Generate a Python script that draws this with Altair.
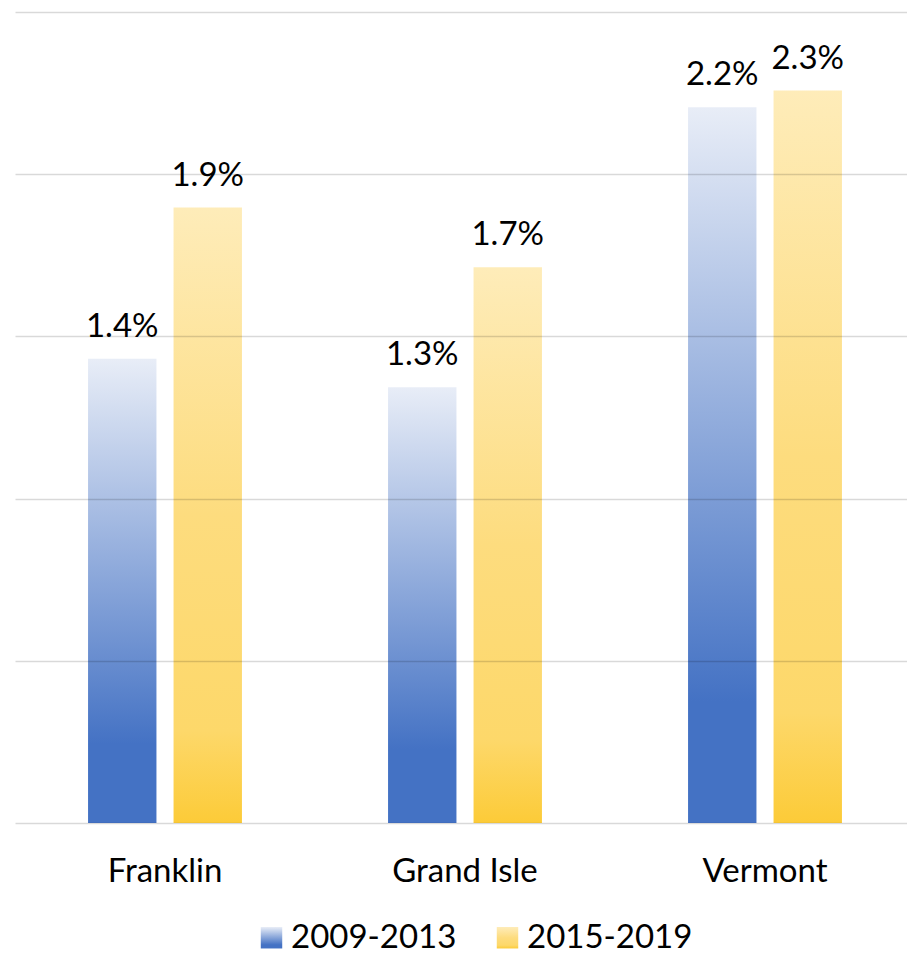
import altair as alt
import pandas as pd

# Share of population (%) by area for two five-year periods
areas = ["Franklin", "Grand Isle", "Vermont"]
periods = ["2009-2013", "2015-2019"]
share_2009_2013 = [1.431, 1.343, 2.206]
share_2015_2019 = [1.897, 1.713, 2.258]

rows = []
for i, area in enumerate(areas):
    rows.append({"area": area, "period": periods[0], "share": share_2009_2013[i]})
    rows.append({"area": area, "period": periods[1], "share": share_2015_2019[i]})
df = pd.DataFrame(rows)

FONT = "Lato"

# Vertical gradients (bottom -> top), evaluated per bar / legend swatch
blue_gradient = (
    "{gradient: 'linear', x1: 0, y1: 1, x2: 0, y2: 0, stops: ["
    "{offset: 0, color: '#4472c4'}, {offset: 0.17, color: '#4472c4'},"
    "{offset: 1, color: '#e8edf7'}]}"
)
gold_gradient = (
    "{gradient: 'linear', x1: 0, y1: 1, x2: 0, y2: 0, stops: ["
    "{offset: 0, color: '#fccb38'}, {offset: 0.15, color: '#fdd86a'},"
    "{offset: 0.5, color: '#fddc7e'}, {offset: 1, color: '#feecb9'}]}"
)

x_enc = alt.X(
    "area:N",
    sort=areas,
    title=None,
    scale=alt.Scale(paddingInner=0.487, paddingOuter=0.2435),
    axis=alt.Axis(
        labelFontSize=33,
        labelFont=FONT,
        labelColor="#000000",
        labelAngle=0,
        labelPadding=32,
        ticks=False,
        tickSize=0,
        domain=False,
        grid=False,
    ),
)
x_off = alt.XOffset("period:N", sort=periods, scale=alt.Scale(paddingInner=0.2, paddingOuter=0))
y_enc = alt.Y(
    "share:Q",
    title=None,
    scale=alt.Scale(domain=[0, 2.5], nice=False, zero=True),
    axis=alt.Axis(
        values=[0, 0.5, 1.0, 1.5, 2.0, 2.5],
        labels=False,
        ticks=False,
        domain=False,
        grid=True,
        gridColor="#000000",
        gridOpacity=0.15,
        gridWidth=1.6,
        zindex=1,
    ),
)

bars = alt.Chart(df).mark_bar().encode(
    x=x_enc,
    xOffset=x_off,
    y=y_enc,
    color=alt.Color(
        "period:N",
        sort=periods,
        scale=alt.Scale(domain=periods, range=[alt.ExprRef(blue_gradient), alt.ExprRef(gold_gradient)]),
        legend=alt.Legend(
            title=None,
            orient="none",
            direction="horizontal",
            legendX=240,
            legendY=909,
            padding=0,
            symbolType="square",
            symbolSize=460,
            symbolStrokeWidth=0,
            labelFont=FONT,
            labelFontSize=33,
            labelColor="#000000",
            labelOffset=3,
            labelLimit=400,
            columnPadding=34,
        ),
    ),
)

labels = alt.Chart(df).transform_calculate(
    label="format(datum.share, '.1f') + '%'"
).mark_text(
    font=FONT, fontSize=33, color="#000000", baseline="alphabetic", dy=-22
).encode(
    x=alt.X("area:N", sort=areas),
    xOffset=alt.XOffset("period:N", sort=periods),
    y="share:Q",
    text="label:N",
)

chart = (
    alt.layer(bars, labels)
    .properties(width=900, height=811, padding={"left": 15, "top": 12, "right": -8, "bottom": 0})
    .configure(background="#ffffff")
    .configure_view(stroke=None)
)

chart.save("out.html", embed_options={"renderer": "svg", "actions": False})
